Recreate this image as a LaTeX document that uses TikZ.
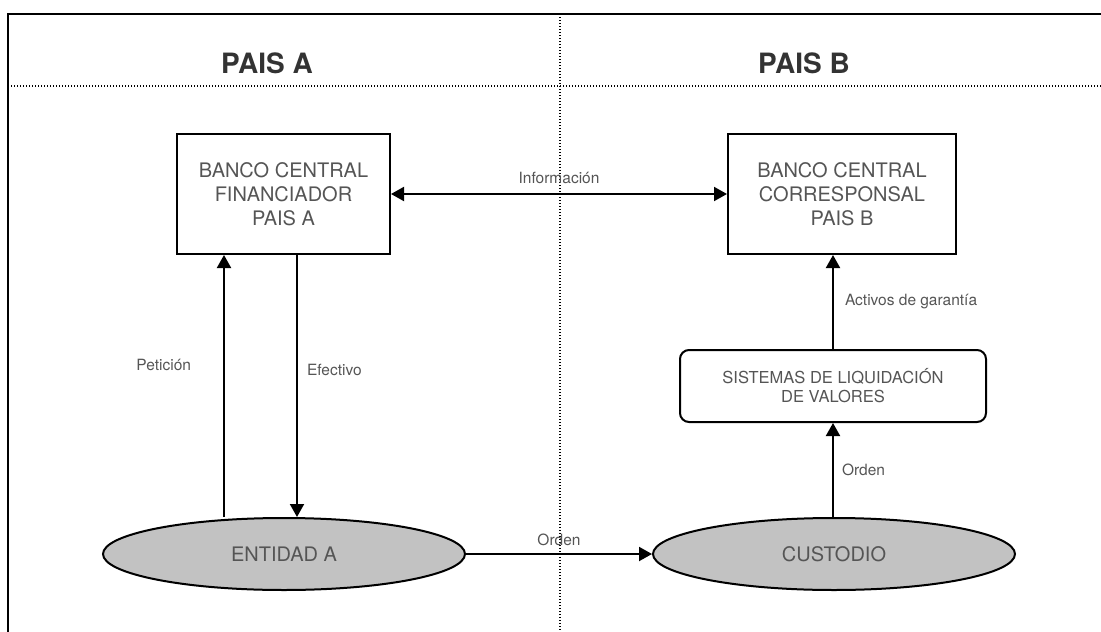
\documentclass[tikz,border=0pt]{standalone}
\usepackage{fontspec}
\setmainfont{TeX Gyre Heros}
\usepackage{tikz}
\usetikzlibrary{arrows.meta,shapes.geometric,calc}

\definecolor{txtgray}{HTML}{555555}
\definecolor{headgray}{HTML}{333333}
\definecolor{ellfill}{HTML}{C2C2C2}

\tikzset{
  bankbox/.style={draw=black,line width=2pt,rectangle,minimum height=120pt,align=center,text=txtgray,font=\fontsize{20}{24}\selectfont},
  slvbox/.style={draw=black,line width=2pt,rectangle,rounded corners=9pt,minimum width=306pt,minimum height=72pt,align=center,text=txtgray,font=\fontsize{16.5}{19}\selectfont},
  entity/.style={draw=black,line width=2pt,ellipse,fill=ellfill,minimum width=362pt,minimum height=72pt,inner sep=0pt,text=txtgray,font=\fontsize{20}{24}\selectfont},
  flow/.style={draw=black,line width=2pt,-{Triangle[length=13pt,width=14pt]}},
  lbl/.style={inner sep=0pt,text=txtgray,font=\fontsize{15.5}{18}\selectfont},
  sep/.style={line width=1.2pt,dash pattern=on 1.2pt off 1.8pt},
  head/.style={text=headgray,font=\fontsize{28}{30}\selectfont\bfseries}
}

\begin{document}
\begin{tikzpicture}[x=1pt,y=-1pt]
  \useasboundingbox (0,0) rectangle (1101,632);
  % frame and country split
  \draw[line width=2pt] (8,632) -- (8,14) -- (1101,14);
  \draw[sep] (8,86) -- (1101,86);
  \draw[sep] (560,14) -- (560,632);
  \node[head] (paisA) at (267,63) {PAIS A};
  \node[head] (paisB) at (804,63) {PAIS B};

  \node[bankbox,minimum width=213pt] (bcA) at (283.5,194) {BANCO CENTRAL\\FINANCIADOR\\PAIS A};
  \node[bankbox,minimum width=228pt] (bcB) at (842,194) {BANCO CENTRAL\\CORRESPONSAL\\PAIS B};
  \node[slvbox] (slv) at (833,386) {SISTEMAS DE LIQUIDACIÓN\\DE VALORES};
  \node[entity] (entA) at (284,554) {ENTIDAD A};
  \node[entity] (cust) at (834,554) {CUSTODIO};

  \coordinate (pet) at (224,0);
  \coordinate (efe) at (297,0);

  \draw[flow,{Triangle[length=13pt,width=14pt]}-{Triangle[length=13pt,width=14pt]}] (bcA) -- node[lbl,above=9pt] {Información} (bcB);
  \draw[flow] (entA.north -| pet) -- node[lbl,pos=0.58,left=32pt] {Petición} (bcA.south -| pet);
  \draw[flow] (bcA.south -| efe) -- node[lbl,pos=0.44,right=9pt] {Efectivo} (entA.north -| efe);
  \draw[flow] (entA) -- node[lbl,above=7pt] {Orden} (cust);
  \draw[flow] (cust.north -| slv.south) -- node[lbl,right=8pt] {Orden} (slv.south);
  \draw[flow] (slv.north) -- node[lbl,right=11pt] {Activos de garantía} (bcB.south -| slv.north);
\end{tikzpicture}
\end{document}
